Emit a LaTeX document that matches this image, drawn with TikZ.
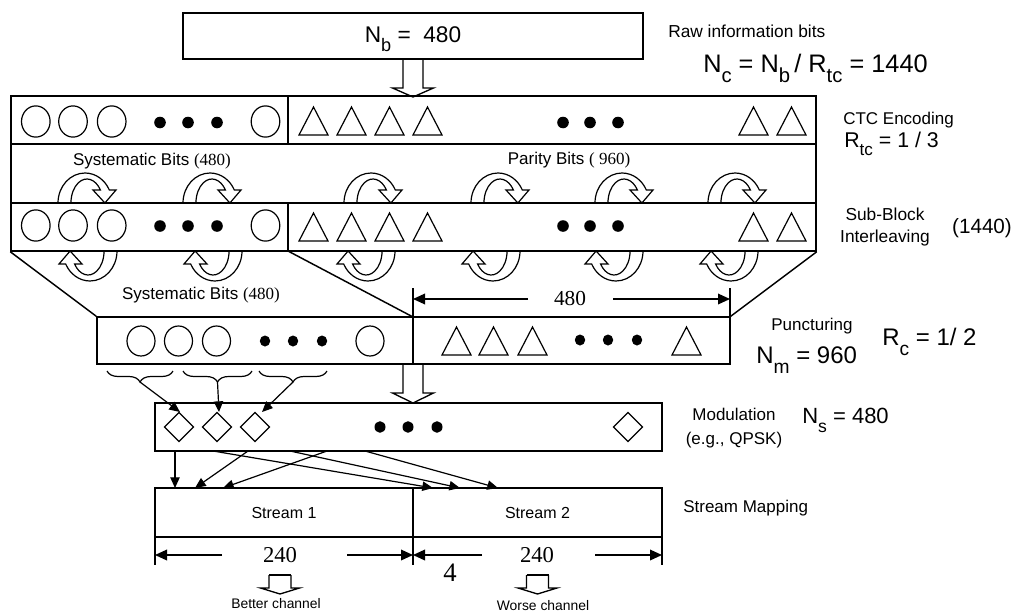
\documentclass[tikz,border=0pt]{standalone}
\usepackage{fontspec}
\setmainfont{Liberation Sans}
\newfontfamily\tms{Liberation Serif}
\usepackage{graphicx}
\usetikzlibrary{arrows.meta,decorations.pathreplacing,fit,calc}
\newcommand\lsub[1]{\raisebox{-0.42em}{\scalebox{0.8}{#1}}}
\newcommand\fs[1]{\fontsize{#1}{#1}\selectfont}
\newcommand\hollowarrow[6]{%
  \draw[line width=1pt] (#1-#5,#2) -- (#1-#5,#3) -- (#1-#6,#3) -- (#1,#4) -- (#1+#6,#3) -- (#1+#5,#3) -- (#1+#5,#2);}
\begin{document}
\begin{tikzpicture}[x=0.75pt,y=-0.75pt,line join=miter,
  box/.style={draw,line width=1.1pt,inner sep=0pt},
  sym/.style={draw,line width=0.9pt},
  lab/.style={inner sep=0pt,font=\fs{12.75pt}},
  arr/.style={-{Triangle[length=8pt,width=7pt]},line width=0.9pt},
  dimarr/.style={-{Triangle[length=9pt,width=8pt]},line width=1pt},
  carrow/.pic={
    \draw[line width=0.9pt,yscale=-1] (0,0) arc[start angle=180,end angle=25.7,x radius=27,y radius=30]
      -- (58,13) -- (46.9,0) -- (35,13) -- (42.4,13)
      arc[start angle=32.8,end angle=180,x radius=16,y radius=24] -- cycle;
  }]
\useasboundingbox (0,0) rectangle (1021,614);
\fill[white] (0,0) rectangle (1021,614);

% ---- top box
\node[box,fit={(183,13)(643,59)}] (top) {};
\node[lab,anchor=base,font=\fs{17pt}] (toptxt) at (413,42) {N\lsub{b} =\ \ 480};

% ---- CTC / interleaving block
\node[box,fit={(11,96)(816,251)}] (ctc) {};
\draw[line width=1.1pt] (11,144) -- (816,144);
\draw[line width=1.1pt] (11,203) -- (816,203);
\draw[line width=1.1pt] (288,96) -- (288,144);
\draw[line width=1.1pt] (288,203) -- (288,251);

\hollowarrow{413}{59}{88}{97}{10}{20.5}

% circles, dots, triangles (rows)
\foreach \y/\d/\t in {121.5/122.5/107, 225.5/226/213}{
  \foreach \x in {35.8,73,111.7,265.5}
    \draw[sym] (\x,\y) ellipse[x radius=14.3,y radius=15.6];
  \foreach \x in {160,188,217,563,590,618}
    \fill (\x,\d) ellipse[x radius=5.8,y radius=5.8];
  \foreach \x in {299,337,375,413,739,777}
    \draw[sym] (\x,\t+28) -- (\x+14.5,\t) -- (\x+29,\t+28) -- cycle;
}

\node[lab] (sys1) at (152,161) {Systematic Bits {\tms(480)}};
\node[lab] (par1) at (569,160) {Parity Bits {\tms( 960)}};

% circular arrows
\foreach \x in {58,183,344,471,595,708}
  \pic at (\x,203) {carrow};
\foreach \x in {117,242,395,520,643,758}
  \pic[rotate=180] at (\x,251) {carrow};

\node[lab] (sys2) at (201,295) {Systematic Bits {\tms(480)}};

% ---- puncturing box
\node[box,fit={(97,317)(730,364)}] (punc) {};
\draw[line width=1.1pt] (ctc.south west) -- (punc.north west);
\draw[line width=1.1pt] (288,251) -- (413,317);
\draw[line width=1.1pt] (ctc.south east) -- (punc.north east);
\draw[line width=1.1pt] (413,288) -- (413,364);
\draw[line width=1.1pt] (730,288) -- (730,317);
\draw[dimarr] (528,299) -- (413,299);
\draw[dimarr] (613,299) -- (730,299);
\node[inner sep=0pt,font=\tms\fs{16pt}] at (570,299) {480};

\foreach \x in {141,178.5,216.5,370}
  \draw[sym] (\x,341) ellipse[x radius=14,y radius=15];
\foreach \x in {265,293,322}
  \fill (\x,341) ellipse[x radius=5.2,y radius=5.5];
\foreach \x in {442,479,518,672}
  \draw[sym] (\x,355) -- (\x+14.5,327) -- (\x+29,355) -- cycle;
\foreach \x in {580,608,637}
  \fill (\x,340) ellipse[x radius=5.2,y radius=5.5];

% braces
\foreach \a/\b in {107/173,183/252,259/327}
  \draw[decorate,decoration={brace,mirror,amplitude=8.25pt},line width=0.9pt] (\a,371) -- (\b,371);

\hollowarrow{413}{364}{393}{403}{10}{20.5}

% ---- modulation box
\node[box,fit={(155,403)(662,451)}] (mod) {};
\foreach \x in {179,217,255,628}
  \draw[sym] (\x-14.5,427) -- (\x,412.5) -- (\x+14.5,427) -- (\x,441.5) -- cycle;
\foreach \x in {380,408,437}
  \fill (\x,427) ellipse[x radius=5.5,y radius=5.8];

\draw[arr] (140,382) -- (180,412);
\draw[arr] (217.5,382) -- (219,412);
\draw[arr] (293,382) -- (262,412);

% ---- streams
\node[box,fit={(155,488)(413,537)}] (s1) {};
\node[box,fit={(413,488)(662,537)}] (s2) {};
\node[lab,font=\fs{12pt}] at (s1.center) {Stream 1};
\node[lab,font=\fs{12pt}] at (s2.center) {Stream 2};

\draw[arr] (175,451) -- (175,488);
\draw[arr] (248,451) -- (195,488);
\draw[arr] (327,451) -- (223,488);
\draw[arr] (213,451) -- (433,488);
\draw[arr] (290,451) -- (460,488);
\draw[arr] (365,451) -- (498,488);

\draw[line width=1.1pt] (155,537) -- (155,565);
\draw[line width=1.1pt] (413,537) -- (413,565);
\draw[line width=1.1pt] (662,537) -- (662,565);
\draw[dimarr] (222,555) -- (155,555);
\draw[dimarr] (347,555) -- (413,555);
\draw[dimarr] (482,555) -- (413,555);
\draw[dimarr] (595,555) -- (662,555);
\node[inner sep=0pt,font=\tms\fs{17pt}] at (280,555) {240};
\node[inner sep=0pt,font=\tms\fs{17pt}] at (537,555) {240};
\node[inner sep=0pt,font=\tms\fs{20pt}] at (450,573) {4};

\hollowarrow{280}{575}{588}{594}{11}{19.5}
\draw[line width=1pt] (269,575) -- (291,575);
\hollowarrow{537.5}{575}{588}{594}{11}{19.5}
\draw[line width=1pt] (526.5,575) -- (548.5,575);
\node[inner sep=0pt,font=\fs{10.4pt}] at (276,604) {Better channel};
\node[inner sep=0pt,font=\fs{10.4pt}] at (543,606) {Worse channel};

% ---- right-side labels
\node[lab,anchor=base west,font=\fs{13pt}] at (668,37) {Raw information bits};
\node[lab,anchor=base west,font=\fs{19pt}] at (703,72) {N\lsub{c} = N\lsub{b}\,/ R\lsub{tc} = 1440};
\node[lab,anchor=base west] at (843,124) {CTC Encoding};
\node[lab,anchor=base west,font=\fs{16pt}] at (844,147) {R\lsub{tc} = 1 / 3};
\node[lab,anchor=base,font=\fs{13pt}] at (885,220) {Sub-Block};
\node[lab,anchor=base,font=\fs{13pt}] at (885,242) {Interleaving};
\node[lab,anchor=base,font=\fs{15.5pt}] at (982,233) {(1440)};
\node[lab,anchor=base] at (812,330) {Puncturing};
\node[lab,anchor=base west,font=\fs{18pt}] at (756,363) {N\lsub{m} = 960};
\node[lab,anchor=base west,font=\fs{18pt}] at (882,345) {R\lsub{c} = 1/ 2};
\node[lab,anchor=base] at (734,420) {Modulation};
\node[lab,anchor=base] at (734,444) {(e.g., QPSK)};
\node[lab,anchor=base west,font=\fs{16.5pt}] at (802,423) {N\lsub{s} = 480};
\node[lab,anchor=base west] at (683,512) {Stream Mapping};
\end{tikzpicture}
\end{document}
